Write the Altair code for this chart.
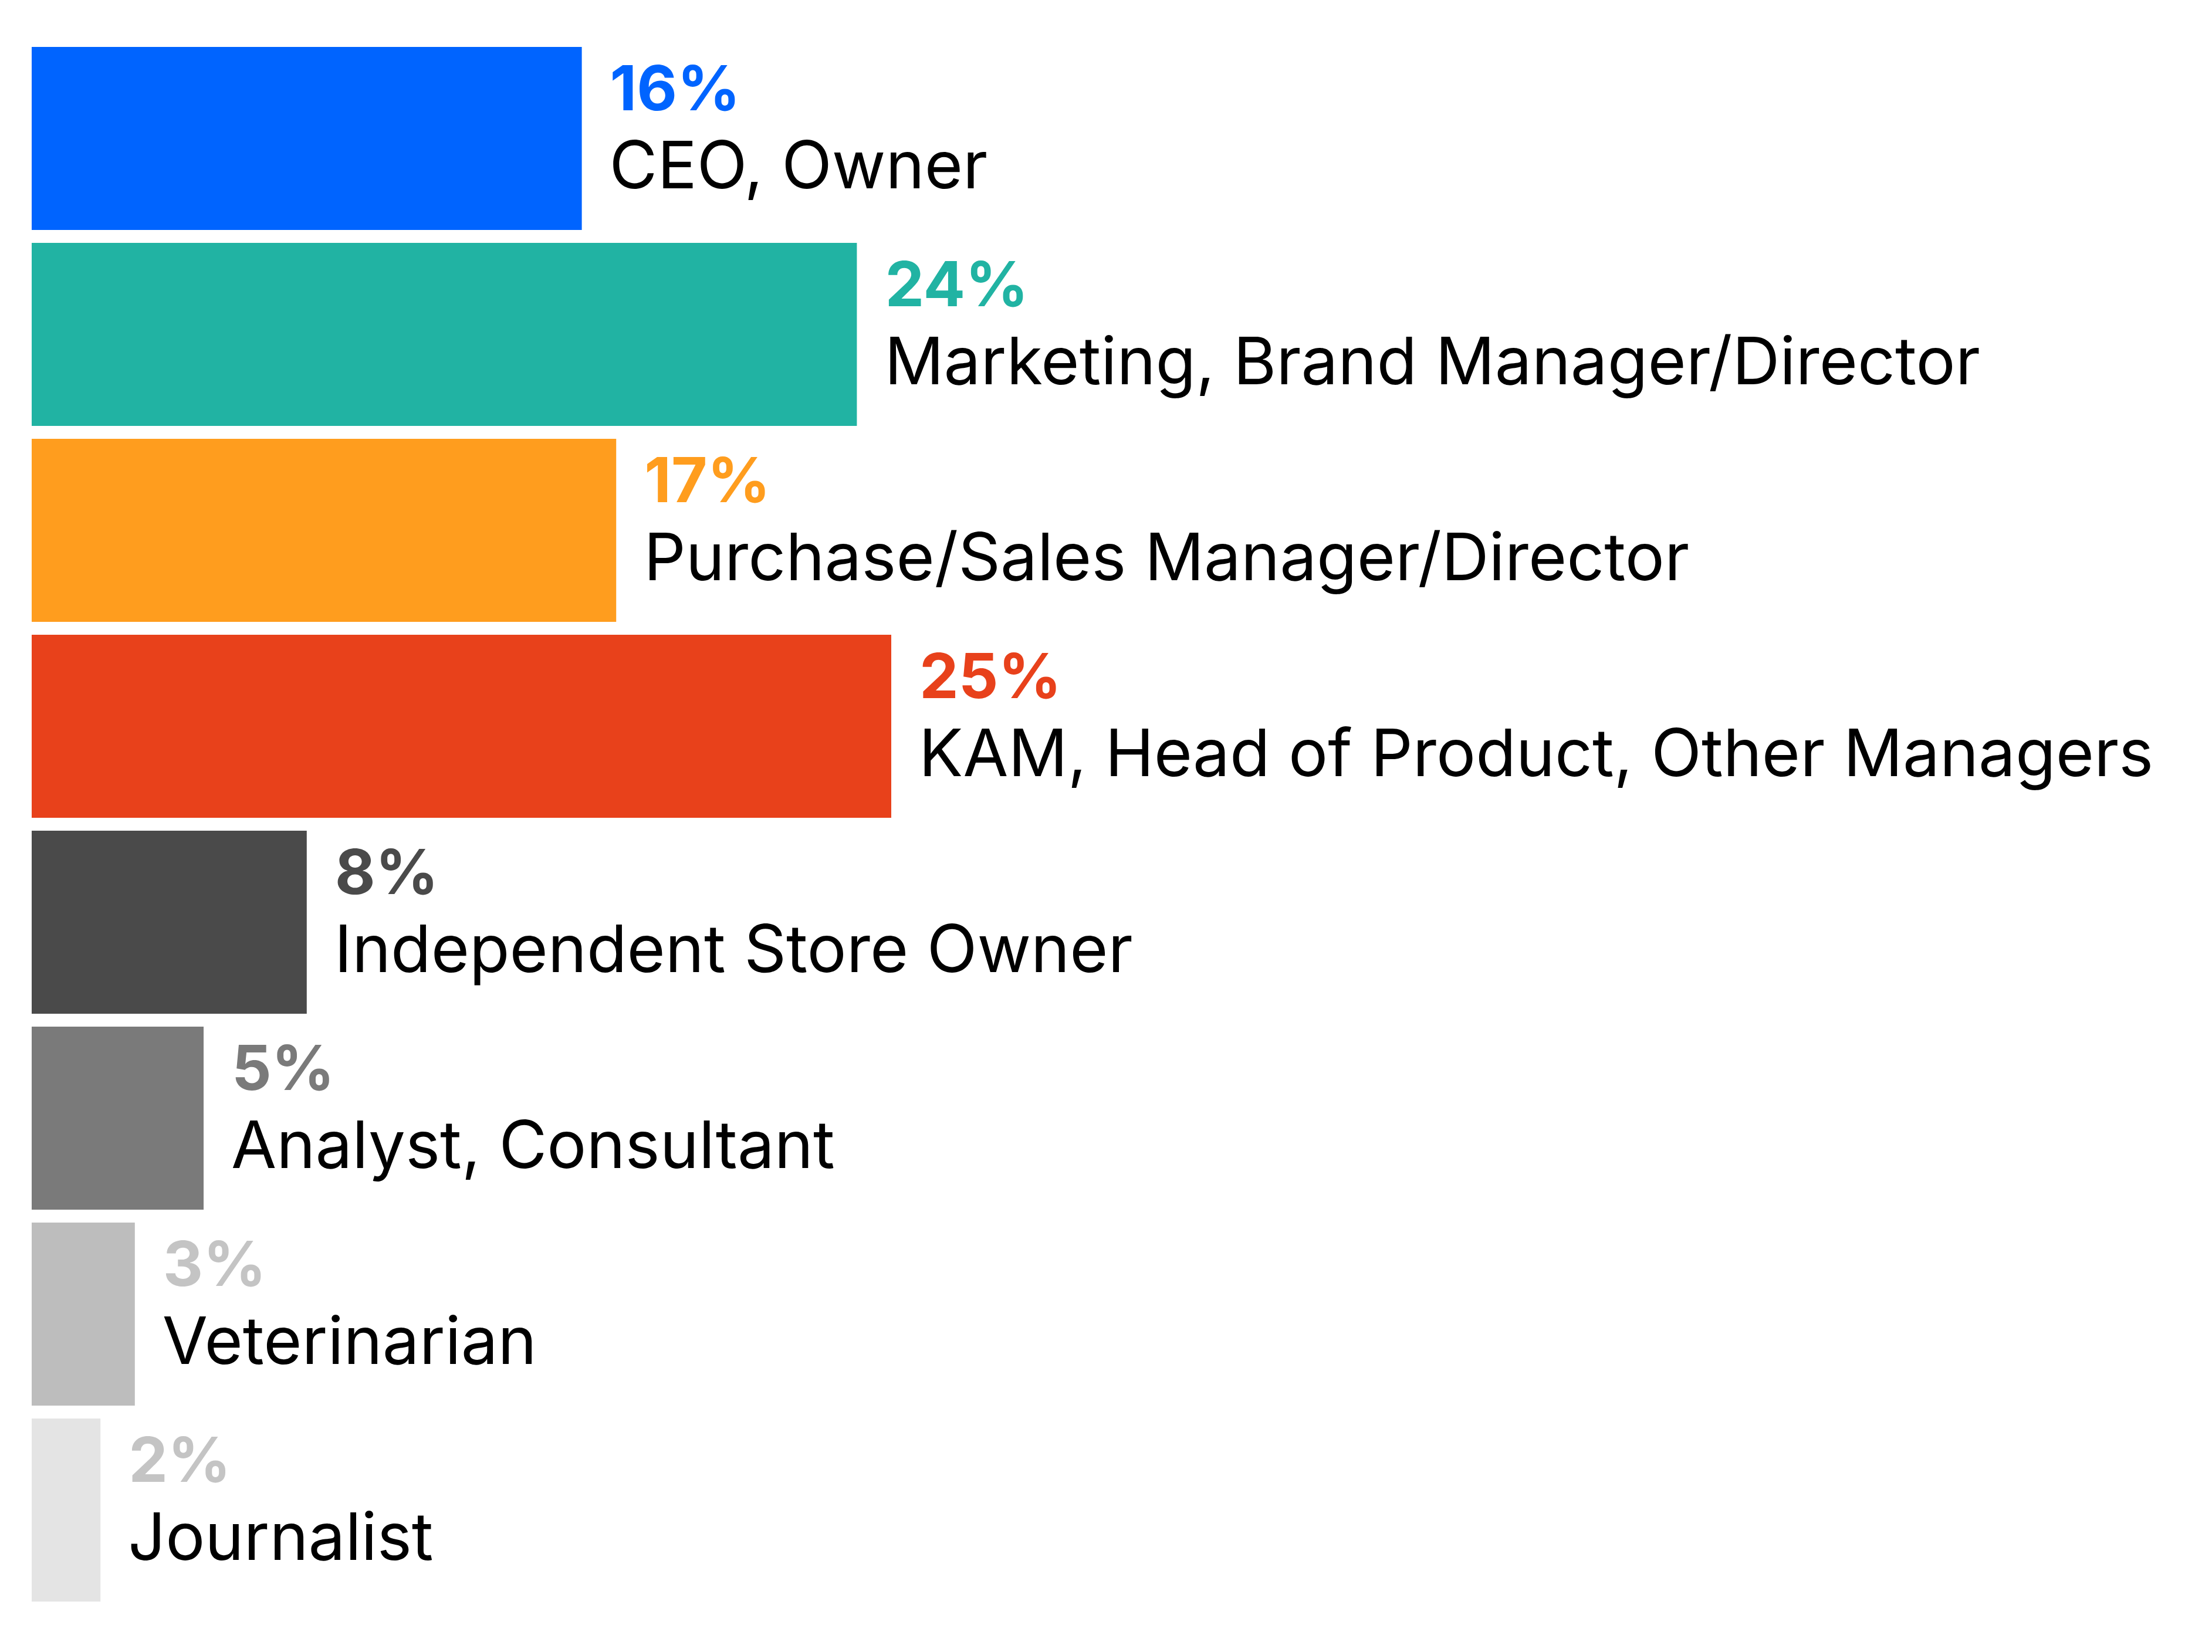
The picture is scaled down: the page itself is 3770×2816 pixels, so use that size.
import altair as alt
import pandas as pd

categories = [
    "CEO, Owner",
    "Marketing, Brand Manager/Director",
    "Purchase/Sales Manager/Director",
    "KAM, Head of Product, Other Managers",
    "Independent Store Owner",
    "Analyst, Consultant",
    "Veterinarian",
    "Journalist",
]
values = [16, 24, 17, 25, 8, 5, 3, 2]
bar_colors = ["#0064FF", "#21B3A3", "#FF9D1E", "#E8411B", "#4A4A4A", "#7A7A7A", "#BDBDBD", "#E4E4E4"]
pct_colors = ["#0064FF", "#21B3A3", "#FF9D1E", "#E8411B", "#4A4A4A", "#7A7A7A", "#C4C4C4", "#C4C4C4"]

df = pd.DataFrame({
    "cat": categories,
    "value": values,
    "pct": [f"{v}%" for v in values],
    "bar_color": bar_colors,
    "pct_color": pct_colors,
})

y = alt.Y("cat:N", sort=categories, axis=None,
          scale=alt.Scale(paddingInner=0.066, paddingOuter=0.033))
x = alt.X("value:Q", axis=None, scale=alt.Scale(domain=[0, 60], nice=False))

bars = alt.Chart(df).mark_bar(cornerRadius=0).encode(
    x=x, y=y, color=alt.Color("bar_color:N", scale=None)
)

pct = alt.Chart(df).mark_text(
    align="left", baseline="alphabetic", dx=48, dy=-48,
    font="Inter", fontSize=106, fontWeight=700
).encode(x=x, y=y, text="pct:N", color=alt.Color("pct_color:N", scale=None))

lab = alt.Chart(df).mark_text(
    align="left", baseline="alphabetic", dx=47, dy=85,
    font="Inter", fontSize=112, fontWeight=400, color="#000000"
).encode(x=x, y=y, text="cat:N")

chart = alt.layer(bars, pct, lab).properties(
    width=3516, height=2672,
    padding={"left": 46, "top": 61, "right": 100, "bottom": 40},
    autosize=alt.AutoSizeParams(type="none"),
    background="#FFFFFF",
).configure_view(stroke=None)

chart.save("out.html", embed_options={"renderer": "svg", "actions": False})
